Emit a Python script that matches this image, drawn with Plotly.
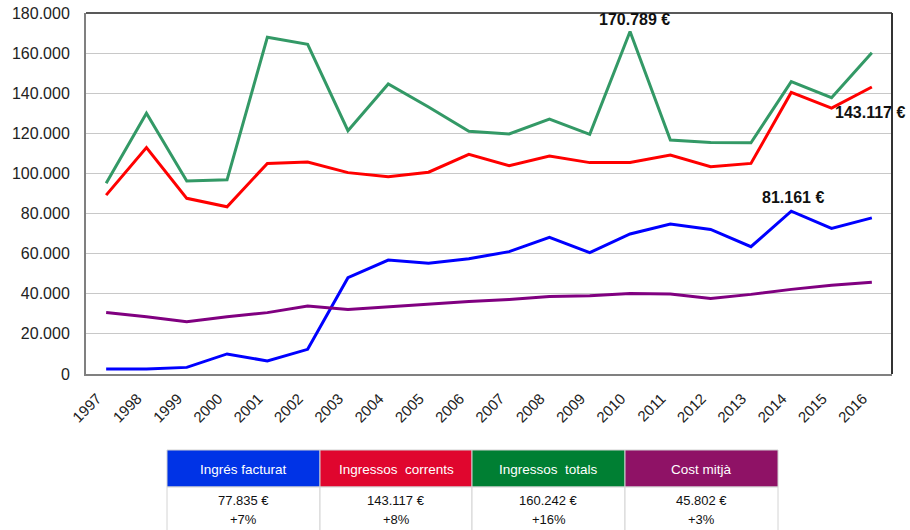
import plotly.graph_objects as go

years = [str(y) for y in range(1997, 2017)]

ingres_facturat = [2500, 2500, 3300, 10000, 6500, 12300, 48000, 56800, 55200, 57500,
                   61000, 68100, 60500, 69800, 74800, 72100, 63500, 81161, 72600, 77835]
ingressos_corrents = [89200, 112900, 87600, 83400, 105000, 105700, 100400, 98400, 100600, 109500,
                      103900, 108700, 105400, 105500, 109200, 103400, 105000, 140400, 132600, 143117]
ingressos_totals = [95100, 130000, 96200, 96800, 167900, 164400, 121300, 144600, 133100, 121000,
                    119700, 127100, 119500, 170789, 116700, 115400, 115300, 145800, 137800, 160242]
cost_mitja = [30700, 28600, 26100, 28600, 30600, 33900, 32200, 33600, 34900, 36100,
              37200, 38600, 39000, 40200, 39900, 37700, 39700, 42200, 44300, 45802]

series_names = ["Ingrés facturat", "Ingressos\u00a0\u00a0corrents", "Ingressos\u00a0\u00a0totals", "Cost\u00a0mitjà"]
line_colors = ["#0000FF", "#FF0000", "#339966", "#800080"]
header_colors = ["#0033E6", "#E0062E", "#007F33", "#8F1266"]
table_amounts = ["77.835 €", "143.117 €", "160.242 €", "45.802 €"]
table_changes = ["+7%", "+8%", "+16%", "+3%"]

W, H = 910, 530
OFF = 0  # body margin removed via post_script


def px(X):
    return (X - OFF) / W


def py(Y):
    return 1 - (Y - OFF) / H


xd = [px(86), px(892)]
yd = [py(374), py(13)]

fig = go.Figure()
for name, vals, col in zip(series_names, [ingres_facturat, ingressos_corrents, ingressos_totals, cost_mitja], line_colors):
    fig.add_trace(go.Scatter(x=years, y=vals, mode="lines", name=name,
                             line=dict(color=col, width=3), showlegend=False))


def fmt(v):
    return f"{v:,}".replace(",", ".") + " €"


ann_font = dict(family="Liberation Sans, Arial", size=16, color="#111111")
i_max_tot = years.index("2010")
i_last = years.index("2016")
i_max_fac = years.index("2014")
annotations = [
    dict(x=i_max_tot, y=ingressos_totals[i_max_tot], text="<b>" + fmt(ingressos_totals[i_max_tot]) + "</b>",
         xref="x", yref="y", showarrow=False, yshift=12, xshift=4, font=ann_font),
    dict(x=i_last, y=ingressos_corrents[i_last], text="<b>" + fmt(ingressos_corrents[i_last]) + "</b>",
         xref="x", yref="y", showarrow=False, yshift=-26, xshift=-2, font=ann_font),
    dict(x=i_max_fac, y=ingres_facturat[i_max_fac], text="<b>" + fmt(ingres_facturat[i_max_fac]) + "</b>",
         xref="x", yref="y", showarrow=False, yshift=14, xshift=2, font=ann_font),
]

shapes = [
    dict(type="line", xref="paper", yref="paper", x0=xd[0], x1=xd[1], y0=yd[1], y1=yd[1],
         line=dict(color="#222222", width=1.5)),
    dict(type="line", xref="paper", yref="paper", x0=xd[1], x1=xd[1], y0=yd[0], y1=yd[1],
         line=dict(color="#333333", width=2)),
]

# table below the chart
col_edges = [167, 320, 472, 625, 778]
head_top, head_bot, cell_bot = 450, 487, 545
for i, name in enumerate(series_names):
    x0, x1 = col_edges[i], col_edges[i + 1]
    shapes.append(dict(type="rect", xref="paper", yref="paper", x0=px(x0), x1=px(x1),
                       y0=py(head_bot), y1=py(head_top), fillcolor=header_colors[i],
                       line=dict(color="#D0D0D0", width=1), layer="above"))
    shapes.append(dict(type="rect", xref="paper", yref="paper", x0=px(x0), x1=px(x1),
                       y0=py(cell_bot), y1=py(head_bot), fillcolor="white",
                       line=dict(color="#D4D4D4", width=1), layer="above"))
    xc = px((x0 + x1) / 2)
    annotations.append(dict(x=xc, y=py(469), xref="paper", yref="paper", text=name,
                            showarrow=False, xanchor="center", yanchor="middle",
                            font=dict(family="Liberation Sans, Arial", size=13.5, color="white")))
    annotations.append(dict(x=xc, y=py(500), xref="paper", yref="paper", text=table_amounts[i],
                            showarrow=False, xanchor="center", yanchor="middle",
                            font=dict(family="Liberation Sans, Arial", size=13, color="#111111")))
    annotations.append(dict(x=xc, y=py(519), xref="paper", yref="paper", text=table_changes[i],
                            showarrow=False, xanchor="center", yanchor="middle",
                            font=dict(family="Liberation Sans, Arial", size=13, color="#111111")))

fig.update_layout(
    width=W, height=H,
    margin=dict(l=0, r=0, t=0, b=0, autoexpand=False),
    paper_bgcolor="white", plot_bgcolor="white",
    separators=",.",
    font=dict(family="Liberation Sans, Arial", color="#222222"),
    xaxis=dict(domain=xd, type="category", range=[-0.5, 19.5], tickangle=-45,
               showgrid=False, showline=True, linecolor="#808080", linewidth=2,
               ticks="outside", ticklen=8, tickcolor="rgba(0,0,0,0)", automargin=False,
               ticklabelshift=-9, ticklabeloverflow="allow",
               tickfont=dict(size=15, color="#222222"), fixedrange=True),
    yaxis=dict(domain=yd, range=[0, 180000], tickvals=list(range(0, 180001, 20000)),
               tickformat=",d", showgrid=True, gridcolor="#C8C8C8", gridwidth=1,
               showline=True, linecolor="#808080", linewidth=2, zeroline=False,
               ticks="outside", ticklen=11, tickcolor="rgba(0,0,0,0)", automargin=False,
               ticklabeloverflow="allow",
               tickfont=dict(size=16, color="#222222"), fixedrange=True),
    annotations=annotations,
    shapes=shapes,
)

fig.write_html("out.html", config={"displayModeBar": False},
               post_script="document.body.style.margin='0px';document.body.style.overflow='hidden';")
